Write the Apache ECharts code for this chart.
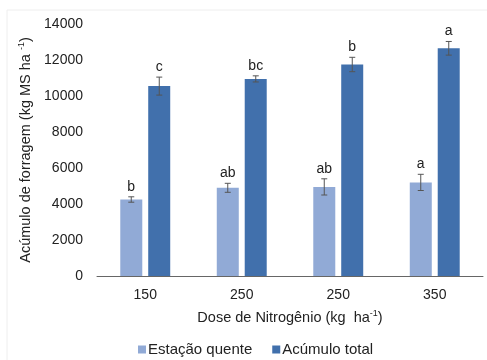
<!DOCTYPE html>
<html>
<head>
<meta charset="utf-8">
<script src="https://cdn.jsdelivr.net/npm/echarts@6/dist/echarts.min.js"></script>
<style>
  html, body { margin: 0; padding: 0; background: #fff; }
  #chart { width: 487px; height: 360px; }
</style>
</head>
<body>
<div id="chart"></div>
<script>
// dados
var doses = ['150', '250', '250', '350'];
var estacaoQuente = [4250, 4900, 4950, 5200];
var estacaoQuenteErro = [150, 250, 450, 450];
var estacaoQuenteLetras = ['b', 'ab', 'ab', 'a'];
var acumuloTotal = [10550, 10950, 11750, 12650];
var acumuloTotalErro = [500, 170, 400, 380];
var acumuloTotalLetras = ['c', 'bc', 'b', 'a'];
var yTicks = [0, 2000, 4000, 6000, 8000, 10000, 12000, 14000];

var corClara = '#91AAD6';
var corEscura = '#4170AC';
var fonte = '"Liberation Sans", Arial, sans-serif';

function errorSeries(valores, erros, letras, deslocamento) {
    var dados = valores.map(function (v, i) { return [i, v, erros[i], letras[i]]; });
    return {
        type: 'custom',
        data: dados,
        z: 10,
        silent: true,
        renderItem: function (params, api) {
            var i = api.value(0);
            var v = api.value(1);
            var e = api.value(2);
            var alto = api.coord([i, v + e]);
            var baixo = api.coord([i, v - e]);
            var x = alto[0] + deslocamento;
            var w = 3;
            var traco = { stroke: '#555', lineWidth: 1 };
            return {
                type: 'group',
                children: [
                    { type: 'line', shape: { x1: x, y1: alto[1], x2: x, y2: baixo[1] }, style: traco },
                    { type: 'line', shape: { x1: x - w, y1: alto[1], x2: x + w, y2: alto[1] }, style: traco },
                    { type: 'line', shape: { x1: x - w, y1: baixo[1], x2: x + w, y2: baixo[1] }, style: traco },
                    {
                        type: 'text',
                        style: {
                            x: x, y: alto[1] - 3,
                            text: dados[params.dataIndex][3],
                            textAlign: 'center', textVerticalAlign: 'bottom',
                            fill: '#222', font: '14px ' + fonte
                        }
                    }
                ]
            };
        }
    };
}

var chart = echarts.init(document.getElementById('chart'));
var option = {
    animation: false,
    backgroundColor: '#fff',
    textStyle: { fontFamily: fonte },
    graphic: [{
        type: 'rect',
        shape: { x: 7, y: 10, width: 490, height: 360 },
        style: { fill: 'none', stroke: '#eeeeee', lineWidth: 1 },
        silent: true
    }],
    grid: { left: 97, right: 4, top: 24, bottom: 84 },
    legend: {
        bottom: -2,
        left: 133,
        itemWidth: 8,
        itemHeight: 8,
        itemGap: 20,
        icon: 'rect',
        textStyle: { fontSize: 15, color: '#222', fontFamily: fonte, padding: [0, 0, 0, -3] },
        data: ['Estação quente', 'Acúmulo total']
    },
    xAxis: {
        type: 'category',
        data: doses,
        axisTick: { show: false },
        axisLine: { lineStyle: { color: '#666', width: 1 } },
        axisLabel: { color: '#222', fontSize: 14, margin: 12 },
        name: 'Dose de Nitrogênio (kg  ha{sup|-1})',
        nameLocation: 'middle',
        nameGap: 33,
        nameTextStyle: {
            color: '#222', fontSize: 14.5,
            rich: { sup: { fontSize: 9, verticalAlign: 'top', padding: [0, 0, 8, 0], color: '#222' } }
        }
    },
    yAxis: {
        type: 'value',
        min: yTicks[0],
        max: yTicks[yTicks.length - 1],
        interval: yTicks[1] - yTicks[0],
        axisLine: { show: false },
        axisTick: { show: false },
        splitLine: { show: false },
        axisLabel: { color: '#222', fontSize: 14, margin: 14, formatter: function (v) { return String(v); } },
        name: 'Acúmulo de forragem (kg MS ha {sup|-1})',
        nameLocation: 'middle',
        nameGap: 46,
        nameRotate: 90,
        nameTextStyle: {
            color: '#222', fontSize: 14.5,
            rich: { sup: { fontSize: 9, verticalAlign: 'top', padding: [0, 0, 8, 0], color: '#222' } }
        }
    },
    series: [
        {
            name: 'Estação quente',
            type: 'bar',
            data: estacaoQuente,
            barWidth: 22,
            barGap: '27%',
            itemStyle: { color: corClara }
        },
        {
            name: 'Acúmulo total',
            type: 'bar',
            data: acumuloTotal,
            barWidth: 22,
            barGap: '27%',
            itemStyle: { color: corEscura }
        },
        errorSeries(estacaoQuente, estacaoQuenteErro, estacaoQuenteLetras, -14),
        errorSeries(acumuloTotal, acumuloTotalErro, acumuloTotalLetras, 14)
    ]
};
chart.setOption(option);
</script>
</body>
</html>
